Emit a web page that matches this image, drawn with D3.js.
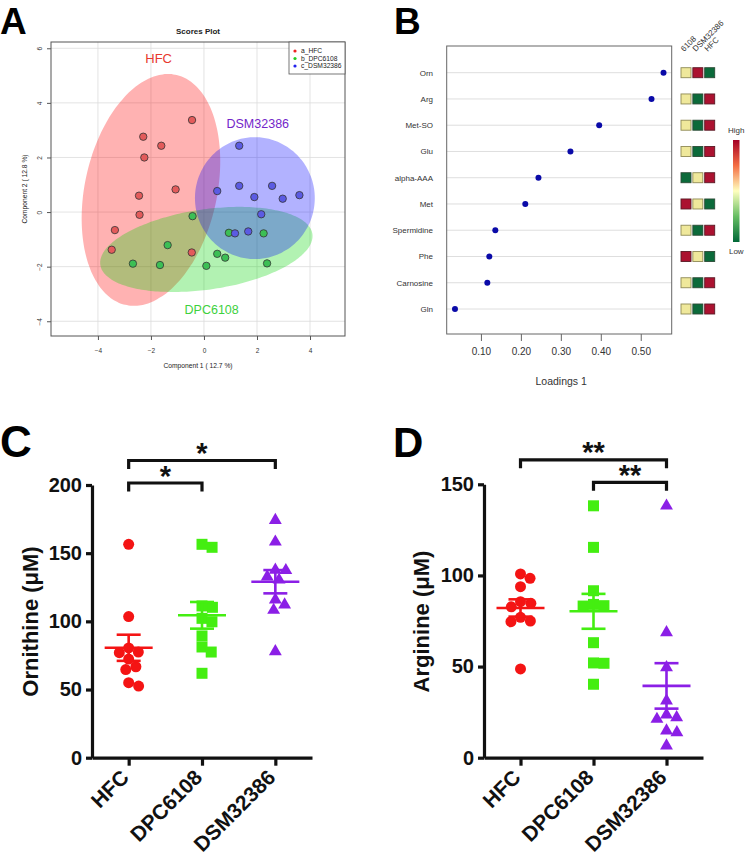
<!DOCTYPE html>
<html><head><meta charset="utf-8">
<script src="https://cdn.jsdelivr.net/npm/d3@7"></script>
<style>
body{margin:0;background:#fff}
svg{display:block}
text{font-family:"Liberation Sans",Arial,Helvetica,sans-serif}
</style>
</head><body>
<svg id="fig" width="748" height="856"></svg>
<script>
// ================= DATA =================
// Panel A – PLS-DA scores
const scoreLegend = ["a_HFC", "b_DPC6108", "c_DSM32386"];
const hfcScoresX = [-0.45, -2.29, -1.61, -2.25, -1.07, -2.45, -2.43, -3.36, -3.48, -0.46];
const hfcScoresY = [3.37, 2.76, 2.43, 2.00, 0.83, 0.60, -0.10, -0.66, -1.38, -1.48];
const dpcScoresX = [-0.43, 0.94, 2.25, -1.37, -2.68, -1.66, 0.50, 0.80, 0.09, 2.38];
const dpcScoresY = [-0.15, -0.76, -0.78, -1.21, -1.89, -1.94, -1.53, -1.67, -1.97, -1.88];
const dsmScoresX = [1.33, 0.50, 1.33, 2.57, 1.90, 2.97, 3.60, 2.16, 1.17, 1.67];
const dsmScoresY = [2.43, 0.77, 0.96, 0.96, 0.55, 0.49, 0.62, -0.08, -0.78, -0.71];
// confidence ellipses: [centre x, centre y, semi-axis 1, semi-axis 2, angle (deg)]
const hfcEllipse = [-2.00, 0.81, 4.32, 2.49, 77];
const dpcEllipse = [0.09, -1.37, 4.04, 1.47, 8];
const dsmEllipse = [1.92, 0.51, 2.26, 2.23, 0];
const scoreTicksX = [-4, -2, 0, 2, 4];
const scoreTicksY = [-4, -2, 0, 2, 4, 6];

// Panel B – loadings
const metabolites = ["Orn", "Arg", "Met-SO", "Glu", "alpha-AAA", "Met", "Spermidine", "Phe", "Carnosine", "Gln"];
const loadings1 = [0.557, 0.527, 0.396, 0.324, 0.244, 0.211, 0.136, 0.121, 0.116, 0.035];
const heatCols = ["6108", "DSM32386", "HFC"];
// relative level per metabolite (0 = low, 1 = mid, 2 = high), columns as heatCols
const heatLevels = [[1,2,0],[1,0,2],[1,0,2],[1,0,2],[0,1,2],[2,1,0],[1,0,2],[2,1,0],[1,0,2],[1,0,2]];
const loadingTicks = [0.1, 0.2, 0.3, 0.4, 0.5];

// Panels C & D
const groups = ["HFC", "DPC6108", "DSM32386"];
const ornHFC = [156.5, 103.5, 77.0, 77.5, 80.5, 72.3, 66.7, 64.6, 52.5, 55.0];
const ornDPC = [154.3, 156.5, 110.3, 111.3, 102.2, 99.7, 89.3, 81.2, 77.5, 61.9];
const ornDSM = [174.8, 158.9, 138.2, 138.0, 131.0, 133.3, 116.4, 112.8, 108.8, 78.5];
const argHFC = [98.4, 100.8, 93.8, 82.8, 84.7, 85.6, 75.0, 74.6, 77.0, 48.7];
const argDPC = [138.2, 115.4, 91.6, 83.2, 83.4, 84.1, 63.1, 51.8, 52.0, 40.3];
const argDSM = [138.6, 69.1, 49.9, 31.7, 22.5, 21.6, 24.0, 15.2, 14.3, 7.0];
const ornTicks = [0, 50, 100, 150, 200];
const argTicks = [0, 50, 100, 150];
const ornComparisons = [["HFC", "DPC6108", "*"], ["HFC", "DSM32386", "*"]];
const argComparisons = [["DPC6108", "DSM32386", "**"], ["HFC", "DSM32386", "**"]];

// ================= DRAW =================
const svg = d3.select("#fig");
const FONT = '"Liberation Sans",Arial,Helvetica,sans-serif';

function panelLetter(t, x, y, size) {
  svg.append("text").attr("x", x).attr("y", y).text(t)
    .attr("font-size", size).attr("font-weight", "bold").attr("fill", "#000");
}
panelLetter("A", 0, 34, 37);
panelLetter("B", 394, 34, 37);
panelLetter("C", 0, 457, 44);
panelLetter("D", 393, 457, 42);

// ---------- Panel A ----------
(function () {
  const L = 51, R = 345, T = 42, B = 336;
  const x = d3.scaleLinear().domain([-5.77, 5.32]).range([L, R]);
  const y = d3.scaleLinear().domain([-4.54, 6.23]).range([B, T]);
  const g = svg.append("g");
  // grid
  g.selectAll(".gx").data(scoreTicksX).join("line")
    .attr("x1", d => x(d)).attr("x2", d => x(d)).attr("y1", T).attr("y2", B)
    .attr("stroke", "#dcdcdc").attr("stroke-width", 0.8);
  g.selectAll(".gy").data(scoreTicksY).join("line")
    .attr("y1", d => y(d)).attr("y2", d => y(d)).attr("x1", L).attr("x2", R)
    .attr("stroke", "#dcdcdc").attr("stroke-width", 0.8);

  const ellPts = e => {
    const [cx, cy, a, b, ang] = e, t = ang * Math.PI / 180;
    return d3.range(0, 360, 3).map(dg => {
      const u = dg * Math.PI / 180;
      return [cx + a * Math.cos(u) * Math.cos(t) - b * Math.sin(u) * Math.sin(t),
              cy + a * Math.cos(u) * Math.sin(t) + b * Math.sin(u) * Math.cos(t)];
    });
  };
  const line = d3.line().x(d => x(d[0])).y(d => y(d[1])).curve(d3.curveCardinalClosed);
  const ells = [[hfcEllipse, "#ff0000", 0.3], [dpcEllipse, "#00d400", 0.3], [dsmEllipse, "#0000ff", 0.3]];
  ells.forEach(([e, c, o]) => g.append("path").attr("d", line(ellPts(e))).attr("fill", c).attr("fill-opacity", o));

  const sets = [[hfcScoresX, hfcScoresY, "#e35b5b"], [dpcScoresX, dpcScoresY, "#3cbf55"], [dsmScoresX, dsmScoresY, "#5b5be3"]];
  sets.forEach(([xs, ys, c]) => {
    g.selectAll(null).data(xs.map((v, i) => [v, ys[i]])).join("circle")
      .attr("cx", d => x(d[0])).attr("cy", d => y(d[1])).attr("r", 3.7)
      .attr("fill", c).attr("stroke", "#333").attr("stroke-width", 0.8);
  });

  // frame
  g.append("rect").attr("x", L).attr("y", T).attr("width", R - L).attr("height", B - T)
    .attr("fill", "none").attr("stroke", "#555").attr("stroke-width", 1);

  // axes
  const ax = g.append("g").attr("transform", `translate(0,${B})`)
    .call(d3.axisBottom(x).tickValues(scoreTicksX).tickSize(4).tickPadding(8));
  ax.select(".domain").remove();
  ax.selectAll("line").attr("stroke", "#555");
  ax.selectAll("text").attr("font-size", 6.5).attr("fill", "#333").attr("font-family", FONT);
  const ay = g.append("g").attr("transform", `translate(${L},0)`)
    .call(d3.axisLeft(y).tickValues(scoreTicksY).tickSize(4));
  ay.select(".domain").remove();
  ay.selectAll("line").attr("stroke", "#555");
  ay.selectAll("text").attr("x", 0).attr("y", 0).attr("dy", 0).attr("text-anchor", "middle")
    .attr("transform", "translate(-9,0) rotate(-90)")
    .attr("font-size", 6.5).attr("fill", "#333").attr("font-family", FONT);

  g.append("text").attr("x", (L + R) / 2).attr("y", 367.5).attr("text-anchor", "middle")
    .attr("font-size", 6.7).attr("fill", "#222").text("Component 1 ( 12.7 %)");
  g.append("text").attr("transform", `translate(27,${(T + B) / 2}) rotate(-90)`).attr("text-anchor", "middle")
    .attr("font-size", 6.7).attr("fill", "#222").text("Component 2 ( 12.8 %)");
  g.append("text").attr("x", (L + R) / 2).attr("y", 33.5).attr("text-anchor", "middle")
    .attr("font-size", 8).attr("font-weight", "bold").attr("fill", "#222").text("Scores Plot");

  // legend
  const lg = g.append("g");
  lg.append("rect").attr("x", 289).attr("y", T).attr("width", R - 289).attr("height", 32)
    .attr("fill", "#fff").attr("stroke", "#555").attr("stroke-width", 0.8);
  const legCols = ["#ee2222", "#22cc22", "#2222ee"];
  scoreLegend.forEach((t, i) => {
    lg.append("circle").attr("cx", 295).attr("cy", 51 + i * 7.5).attr("r", 1.6).attr("fill", legCols[i]);
    lg.append("text").attr("x", 301).attr("y", 53.3 + i * 7.5).attr("font-size", 6.7).attr("fill", "#222").text(t);
  });

  // group labels
  g.append("text").attr("x", x(-1.71)).attr("y", y(5.45)).attr("text-anchor", "middle")
    .attr("font-size", 13).attr("fill", "#e8392e").text("HFC");
  g.append("text").attr("x", x(2.03)).attr("y", y(3.07)).attr("text-anchor", "middle")
    .attr("font-size", 12.5).attr("fill", "#7326c9").text("DSM32386");
  g.append("text").attr("x", x(0.29)).attr("y", y(-3.75)).attr("text-anchor", "middle")
    .attr("font-size", 12.5).attr("fill", "#3dd13d").text("DPC6108");
})();

// ---------- Panel B ----------
(function () {
  const L = 446.7, R = 671.7, T = 46, B = 334;
  const x = d3.scaleLinear().domain([0.0143, 0.5775]).range([L, R]);
  const y = d3.scalePoint().domain(metabolites).range([72.7, 309]);
  const g = svg.append("g");
  g.selectAll(".row").data(metabolites).join("line")
    .attr("x1", L).attr("x2", R).attr("y1", d => y(d)).attr("y2", d => y(d))
    .attr("stroke", "#dedede").attr("stroke-width", 1);
  g.append("rect").attr("x", L).attr("y", T).attr("width", R - L).attr("height", B - T)
    .attr("fill", "none").attr("stroke", "#666").attr("stroke-width", 1);
  g.selectAll(".dot").data(metabolites).join("circle")
    .attr("cx", (d, i) => x(loadings1[i])).attr("cy", d => y(d)).attr("r", 3)
    .attr("fill", "#0a0aa8");
  g.selectAll(".lab").data(metabolites).join("text")
    .attr("x", 433).attr("y", d => y(d)).attr("dy", "0.35em").attr("text-anchor", "end")
    .attr("font-size", 8).attr("fill", "#333").text(d => d);
  const ax = g.append("g").attr("transform", `translate(0,${B})`)
    .call(d3.axisBottom(x).tickValues(loadingTicks).tickSize(7).tickPadding(7));
  ax.select(".domain").remove();
  ax.selectAll("line").attr("stroke", "#666");
  ax.selectAll("text").attr("font-size", 10).attr("fill", "#333").attr("font-family", FONT);
  g.append("text").attr("x", (L + R) / 2 + 2).attr("y", 385).attr("text-anchor", "middle")
    .attr("font-size", 10.5).attr("fill", "#333").text("Loadings 1");

  // heat squares
  const cx = d3.scalePoint().domain(heatCols).range([686, 709.7]);
  const heatColor = d3.scaleOrdinal().domain([0, 1, 2]).range(["#0b6a3a", "#efe89b", "#ab1230"]);
  const heatStroke = d3.scaleOrdinal().domain([0, 1, 2]).range(["#2b4a35", "#8f8a55", "#5a1a25"]);
  metabolites.forEach((m, i) => {
    heatCols.forEach((c, j) => {
      const v = heatLevels[i][j];
      g.append("rect").attr("x", cx(c) - 5).attr("y", y(m) - 5).attr("width", 10).attr("height", 10)
        .attr("fill", heatColor(v)).attr("stroke", heatStroke(v)).attr("stroke-width", 0.9);
    });
  });
  heatCols.forEach(c => {
    g.append("text").attr("transform", `translate(${cx(c) - 2},${52}) rotate(-45)`)
      .attr("font-size", 8).attr("fill", "#333").text(c);
  });
  // colour bar
  const defs = svg.append("defs");
  const grad = defs.append("linearGradient").attr("id", "hm").attr("x1", 0).attr("x2", 0).attr("y1", 0).attr("y2", 1);
  [["0%", "#a50026"], ["25%", "#f46d43"], ["50%", "#ffffbf"], ["75%", "#66bd63"], ["100%", "#006837"]]
    .forEach(([o, c]) => grad.append("stop").attr("offset", o).attr("stop-color", c));
  g.append("rect").attr("x", 733).attr("y", 140).attr("width", 6.5).attr("height", 102).attr("fill", "url(#hm)");
  g.append("text").attr("x", 736.3).attr("y", 133).attr("text-anchor", "middle").attr("font-size", 8).attr("fill", "#333").text("High");
  g.append("text").attr("x", 736.3).attr("y", 254).attr("text-anchor", "middle").attr("font-size", 8).attr("fill", "#333").text("Low");
})();

// ---------- Panels C & D ----------
const groupColors = ["#f41414", "#44ee11", "#8b1fe6"];
const groupShapes = [d3.symbolCircle, d3.symbolSquare, d3.symbolTriangle];
const shapeSizes = [95, 121, 72];

function swarm(values, ys, diam) {
  const order = d3.range(values.length).sort((i, j) => values[j] - values[i]);
  const placed = [], off = new Array(values.length);
  order.forEach(i => {
    const yy = ys(values[i]);
    const cands = [0];
    placed.forEach(p => {
      const dy = yy - p.y;
      if (Math.abs(dy) < diam) {
        const dx = Math.sqrt(diam * diam - dy * dy);
        cands.push(p.x + dx + 0.01, p.x - dx - 0.01);
      }
    });
    cands.sort((a, b) => Math.abs(a) - Math.abs(b));
    const xx = cands.find(c => placed.every(p => (c - p.x) ** 2 + (yy - p.y) ** 2 >= diam * diam - 0.5));
    placed.push({ x: xx, y: yy });
    off[i] = xx;
  });
  return off;
}

function dotPanel(opt) {
  const g = svg.append("g");
  const y = d3.scaleLinear().domain([0, opt.max]).range([757.7, opt.top]);
  const x = d3.scalePoint().domain(groups).range([opt.left, opt.right]).padding(0.5);
  // axes
  const ay = g.append("g").attr("transform", `translate(${opt.left},0)`)
    .call(d3.axisLeft(y).tickValues(opt.ticks).tickSize(6).tickSizeOuter(0).tickPadding(4));
  const ax = g.append("g").attr("transform", `translate(0,757.7)`)
    .call(d3.axisBottom(x).tickSize(8).tickSizeOuter(0));
  [ax, ay].forEach(a => {
    a.select(".domain").attr("stroke", "#111").attr("stroke-width", 3.2);
    a.selectAll(".tick line").attr("stroke", "#111").attr("stroke-width", 3.2);
    a.selectAll("text").attr("font-family", FONT).attr("font-weight", "bold").attr("fill", "#111");
  });
  ay.selectAll("text").attr("font-size", 20);
  ax.selectAll("text").attr("font-size", 21).attr("x", 0).attr("y", 0).attr("dy", 0)
    .attr("text-anchor", "end").attr("transform", "translate(1,21) rotate(-45)");
  g.append("text").attr("transform", `translate(${opt.titleX},621.5) rotate(-90)`)
    .attr("text-anchor", "middle").attr("font-size", 22).attr("font-weight", "bold").attr("fill", "#111")
    .text(opt.title);

  // points
  opt.series.forEach((vals, gi) => {
    const gx = x(groups[gi]);
    const off = swarm(vals, y, 10.5);
    const sym = d3.symbol().type(groupShapes[gi]).size(shapeSizes[gi]);
    g.selectAll(null).data(vals).join("path")
      .attr("d", sym).attr("transform", (d, i) => `translate(${gx + off[i]},${y(d) + (gi === 2 ? 0.8 : 0)})`)
      .attr("fill", groupColors[gi]);
    const m = d3.mean(vals), se = d3.deviation(vals) / Math.sqrt(vals.length);
    const c = groupColors[gi];
    const lw = 2.6;
    g.append("line").attr("x1", gx - 24).attr("x2", gx + 24).attr("y1", y(m)).attr("y2", y(m)).attr("stroke", c).attr("stroke-width", lw);
    g.append("line").attr("x1", gx).attr("x2", gx).attr("y1", y(m + se)).attr("y2", y(m - se)).attr("stroke", c).attr("stroke-width", lw);
    [m + se, m - se].forEach(v => g.append("line").attr("x1", gx - 12).attr("x2", gx + 12)
      .attr("y1", y(v)).attr("y2", y(v)).attr("stroke", c).attr("stroke-width", lw));
  });

  // significance brackets
  opt.comps.forEach(([a, b, lab], lvl) => {
    const by = opt.top - 2 - lvl * 22.5;
    const x1 = x(a), x2 = x(b);
    g.append("path").attr("d", `M${x1},${by + 8.5}V${by}H${x2}V${by + 8.5}`)
      .attr("fill", "none").attr("stroke", "#111").attr("stroke-width", 3.2);
    g.append("text").attr("x", (x1 + x2) / 2).attr("y", by + 2.5).attr("text-anchor", "middle")
      .attr("font-size", 29).attr("font-weight", "bold").attr("fill", "#111").text(lab);
  });
}

dotPanel({ left: 92, right: 312, top: 485, max: 200, ticks: ornTicks, title: "Ornithine (\u03bcM)", titleX: 38,
  series: [ornHFC, ornDPC, ornDSM], comps: ornComparisons });
dotPanel({ left: 484, right: 703, top: 484.3, max: 150, ticks: argTicks, title: "Arginine (\u03bcM)", titleX: 429,
  series: [argHFC, argDPC, argDSM], comps: argComparisons });
</script>
</body></html>
